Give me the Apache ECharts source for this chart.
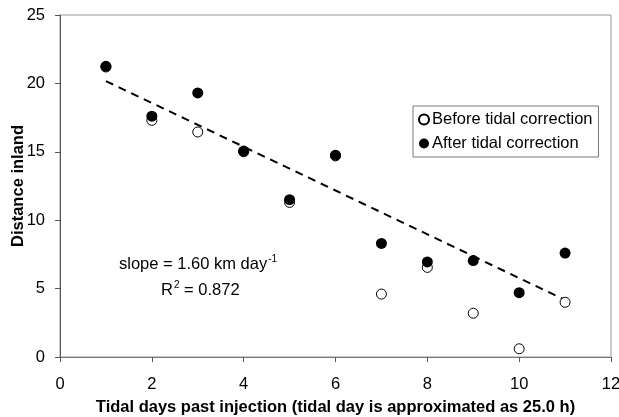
<!DOCTYPE html>
<html lang="en">
<head>
	<meta charset="UTF-8">
	<title>Distance inland</title>
	<script src="https://cdn.jsdelivr.net/npm/echarts@6/dist/echarts.min.js"></script>
	<style>
		html, body { margin: 0; padding: 0; background: #fff; }
		#chart { width: 619px; height: 417px; }
	</style>
</head>
<body>
<div id="chart"></div>
<script>
	// tidal days
	var days = [1, 2, 3, 4, 5, 6, 7, 8, 9, 10, 11];
	// distance inland
	var beforeVals = [21.2, 17.3, 16.45, 15.0, 11.3, 14.7, 4.6, 6.55, 3.2, 0.6, 4.0];
	var afterVals = [21.25, 17.6, 19.3, 15.05, 11.5, 14.75, 8.3, 6.95, 7.05, 4.7, 7.6];
	// dashed trend line ends
	var trendX = [1, 11];
	var trendY = [20.17, 4.17];

	var xTicks = [0, 2, 4, 6, 8, 10, 12];
	var yTicks = [0, 5, 10, 15, 20, 25];

	function pairs(xs, ys) {
		var out = [];
		for (var i = 0; i < xs.length; i++) {
			out.push([xs[i], ys[i]]);
		}
		return out;
	}

	var chart = echarts.init(document.getElementById('chart'));
	var font = '"Liberation Sans", Arial, sans-serif';
	var fs = 16.5;

	// rich text with a small raised part
	var rich = {
		a: { fontSize: fs, fontFamily: font, fill: '#000', lineHeight: 18, verticalAlign: 'bottom' },
		s: { fontSize: 10, fontFamily: font, fill: '#000', lineHeight: 18, verticalAlign: 'top', padding: [-1, 0, 0, 1] }
	};

	var option = {
		animation: false,
		textStyle: { fontFamily: font, color: '#000' },
		grid: {
			left: 60, right: 8, top: 15, bottom: 60,
			outerBoundsMode: 'none',
			containLabel: false,
			show: true,
			borderColor: '#999',
			borderWidth: 1
		},
		legend: {
			orient: 'vertical',
			left: 413,
			top: 106,
			padding: [4, 6, 4, 5],
			itemGap: 5,
			itemWidth: 10,
			itemHeight: 10,
			borderColor: '#777',
			borderWidth: 1,
			backgroundColor: '#fff',
			textStyle: { fontSize: fs, color: '#000', fontFamily: font, padding: [0, 0, 0, -2], lineHeight: 19 },
			data: ['Before tidal correction', 'After tidal correction']
		},
		xAxis: {
			type: 'value',
			min: xTicks[0],
			max: xTicks[xTicks.length - 1],
			interval: 2,
			name: 'Tidal days past injection (tidal day is approximated as 25.0 h)',
			nameLocation: 'middle',
			nameGap: 42,
			nameMoveOverlap: false,
			nameTextStyle: { fontSize: fs, fontWeight: 'bold', color: '#000' },
			axisLine: { lineStyle: { color: '#777' } },
			axisTick: { show: true, length: 5, lineStyle: { color: '#555' } },
			axisLabel: { fontSize: fs, color: '#000', margin: 19 },
			splitLine: { show: false }
		},
		yAxis: {
			type: 'value',
			min: yTicks[0],
			max: yTicks[yTicks.length - 1],
			interval: 5,
			name: 'Distance inland',
			nameLocation: 'middle',
			nameGap: 33,
			nameMoveOverlap: false,
			nameTextStyle: { fontSize: fs, fontWeight: 'bold', color: '#000' },
			axisLine: { show: true, lineStyle: { color: '#555' } },
			axisTick: { show: true, length: 5, lineStyle: { color: '#555' } },
			axisLabel: { fontSize: fs, color: '#000', margin: 15 },
			splitLine: { show: false }
		},
		graphic: [
			{
				type: 'text',
				left: 119,
				top: 254,
				style: { text: '{a|slope = 1.60 km day}{s|-1}', rich: rich }
			},
			{
				type: 'text',
				left: 161,
				top: 280,
				style: { text: '{a|R}{s|2}{a| = 0.872}', rich: rich }
			}
		],
		series: [
			{
				name: 'trend',
				type: 'line',
				data: pairs(trendX, trendY),
				symbol: 'none',
				lineStyle: { color: '#000', width: 2, type: [8, 6] },
				silent: true,
				z: 1
			},
			{
				name: 'Before tidal correction',
				type: 'scatter',
				data: pairs(days, beforeVals),
				symbol: 'circle',
				symbolSize: 10,
				itemStyle: { color: '#fff', borderColor: '#000', borderWidth: 1, opacity: 1 },
				z: 2
			},
			{
				name: 'After tidal correction',
				type: 'scatter',
				data: pairs(days, afterVals),
				symbol: 'circle',
				symbolSize: 11,
				itemStyle: { color: '#000', opacity: 1 },
				z: 3
			}
		]
	};

	chart.setOption(option);
</script>
</body>
</html>
